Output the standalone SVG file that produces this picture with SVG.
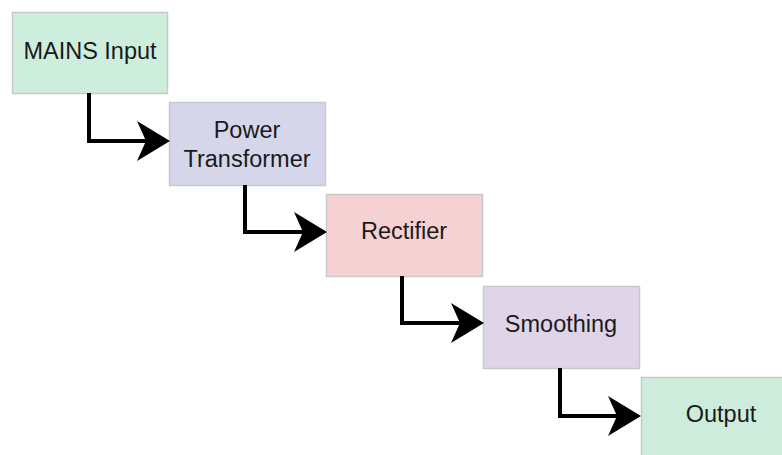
<svg xmlns="http://www.w3.org/2000/svg" width="782" height="455" viewBox="0 0 782 455">
<style>
.box{stroke:#c9c9c9;stroke-width:1.5}
.lbl{font-family:"Liberation Sans",Arial,sans-serif;font-size:23.5px;fill:#1a1a1a;text-anchor:middle}
.wire{fill:none;stroke:#000;stroke-width:4;stroke-linejoin:miter}
.head{fill:#000}
</style>
<rect width="782" height="455" fill="#ffffff"/>
<g id="mains">
<rect class="box" x="12.5" y="12.5" width="155" height="81" fill="#cdeedd"/>
<text class="lbl" x="90" y="59">MAINS Input</text>
</g>
<g id="transformer">
<rect class="box" x="169.5" y="102.5" width="156" height="83" fill="#d5d6ea"/>
<text class="lbl" x="247" y="138">Power</text>
<text class="lbl" x="247" y="167">Transformer</text>
</g>
<g id="rectifier">
<rect class="box" x="326.5" y="194.5" width="156" height="82" fill="#f6d1d3"/>
<text class="lbl" x="404" y="239">Rectifier</text>
</g>
<g id="smoothing">
<rect class="box" x="483.5" y="286.5" width="156" height="82" fill="#dfd4e8"/>
<text class="lbl" x="561" y="332">Smoothing</text>
</g>
<g id="output">
<rect class="box" x="641.5" y="377.5" width="156" height="90" fill="#cdecdc"/>
<text class="lbl" x="721" y="422">Output</text>
</g>
<g id="connectors">
<path class="wire" d="M89 93 V141 H150"/>
<path class="head" d="M170 141 L137 121 L146 141 L137 161 Z"/>
<path class="wire" d="M245 185 V232 H307"/>
<path class="head" d="M327 232 L294 212 L303 232 L294 252 Z"/>
<path class="wire" d="M402 276 V323 H464"/>
<path class="head" d="M484 323 L451 303 L460 323 L451 343 Z"/>
<path class="wire" d="M560 368 V416 H621"/>
<path class="head" d="M641 416 L608 396 L617 416 L608 436 Z"/>
</g>
</svg>
